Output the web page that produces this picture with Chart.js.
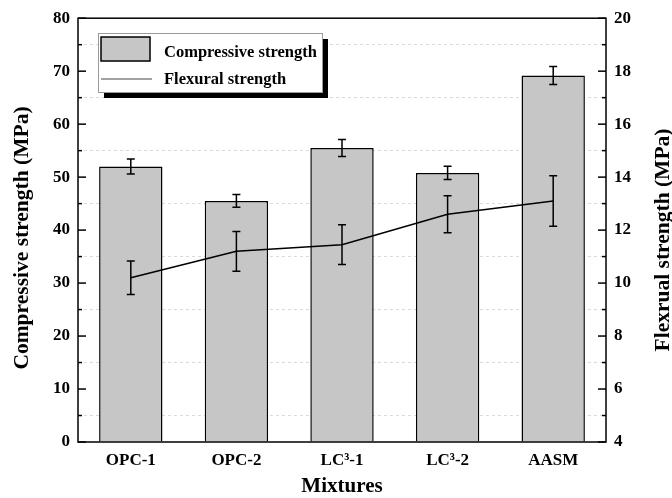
<!DOCTYPE html>
<html>
<head>
<meta charset="utf-8">
<script src="https://cdn.jsdelivr.net/npm/chart.js@4/dist/chart.umd.min.js"></script>
<style>
  html, body { margin: 0; padding: 0; background: #fff; }
  #wrap { width: 672px; height: 498px; }
</style>
</head>
<body>
<div id="wrap"><canvas id="strengthChart" width="672" height="498"></canvas></div>
<script>
// Mixtures and measured strengths
const mixtures = ['OPC-1', 'OPC-2', 'LC\u00B3-1', 'LC\u00B3-2', 'AASM'];
const compressive = [52.0, 45.5, 55.5, 50.8, 69.2];
const compressiveErr = [1.4, 1.2, 1.6, 1.25, 1.7];
const flexural = [10.2, 11.2, 11.45, 12.6, 13.1];
const flexuralErr = [0.63, 0.75, 0.75, 0.7, 0.95];

const leftTicks = [0, 10, 20, 30, 40, 50, 60, 70, 80];
const rightTicks = [4, 6, 8, 10, 12, 14, 16, 18, 20];
const leftTitle = 'Compressive strength (MPa)';
const rightTitle = 'Flexrual strength (MPa)';

const serif = "'Liberation Serif', 'Times New Roman', serif";
const barGray = '#c6c6c6';

// vertical axis title, reading bottom to top
function drawVTitle(ctx, text, cx, cy) {
    ctx.save();
    ctx.translate(cx, cy);
    ctx.rotate(-Math.PI / 2);
    ctx.fillStyle = '#000';
    ctx.font = 'bold 21.5px ' + serif;
    ctx.textAlign = 'center';
    ctx.textBaseline = 'middle';
    ctx.fillText(text, 0, 0);
    ctx.restore();
}

// Error bars, inward tick marks, frame, axis titles and the framed legend
const extrasPlugin = {
    id: 'extras',
    afterDatasetsDraw(chart) {
        const ctx = chart.ctx;
        const x = chart.scales.x;
        const yL = chart.scales.y;
        const yR = chart.scales.y1;
        ctx.save();
        ctx.strokeStyle = '#000';
        ctx.lineWidth = 1.5;
        const cap = 4;
        function errBar(xp, scale, v, e) {
            const top = scale.getPixelForValue(v + e);
            const bot = scale.getPixelForValue(v - e);
            ctx.beginPath();
            ctx.moveTo(xp, top); ctx.lineTo(xp, bot);
            ctx.moveTo(xp - cap, top); ctx.lineTo(xp + cap, top);
            ctx.moveTo(xp - cap, bot); ctx.lineTo(xp + cap, bot);
            ctx.stroke();
        }
        mixtures.forEach((m, i) => {
            const xp = x.getPixelForValue(i);
            errBar(xp, yL, compressive[i], compressiveErr[i]);
            errBar(xp, yR, flexural[i], flexuralErr[i]);
        });
        ctx.restore();
    },
    afterDraw(chart) {
        const ctx = chart.ctx;
        const area = chart.chartArea;
        ctx.save();
        ctx.strokeStyle = '#000';
        ctx.lineWidth = 1.5;
        // tick marks pointing into the plot
        chart.scales.y.ticks.forEach(t => {
            const yp = chart.scales.y.getPixelForValue(t.value);
            const len = leftTicks.includes(t.value) ? 8 : 4;
            ctx.beginPath();
            ctx.moveTo(area.left, yp); ctx.lineTo(area.left + len, yp);
            ctx.stroke();
        });
        chart.scales.y1.ticks.forEach(t => {
            const yp = chart.scales.y1.getPixelForValue(t.value);
            const len = rightTicks.includes(t.value) ? 8 : 4;
            ctx.beginPath();
            ctx.moveTo(area.right, yp); ctx.lineTo(area.right - len, yp);
            ctx.stroke();
        });
        ctx.strokeRect(area.left, area.top, area.right - area.left, area.bottom - area.top);

        drawVTitle(ctx, leftTitle, 22, 238);
        drawVTitle(ctx, rightTitle, 663, 240);

        // legend box with drop shadow
        const bx = 98, by = 33, bw = 224, bh = 59;
        ctx.fillStyle = '#000';
        ctx.fillRect(bx + 6, by + 6, bw, bh);
        ctx.fillStyle = '#fff';
        ctx.fillRect(bx, by, bw, bh);
        ctx.lineWidth = 1;
        ctx.strokeStyle = '#9a9a9a';
        ctx.strokeRect(bx + 0.5, by + 0.5, bw, bh);

        ctx.fillStyle = barGray;
        ctx.fillRect(101, 37, 49, 24);
        ctx.lineWidth = 1.5;
        ctx.strokeStyle = '#000';
        ctx.strokeRect(101, 37, 49, 24);

        ctx.lineWidth = 1.2;
        ctx.strokeStyle = '#444';
        ctx.beginPath();
        ctx.moveTo(101, 79); ctx.lineTo(152, 79);
        ctx.stroke();

        ctx.fillStyle = '#000';
        ctx.font = 'bold 16.5px ' + serif;
        ctx.textBaseline = 'alphabetic';
        ctx.textAlign = 'left';
        ctx.fillText('Compressive strength', 164, 56.5);
        ctx.fillText('Flexural strength', 164, 84);
        ctx.restore();
    }
};

const tickFont = { family: serif, size: 17, weight: 'bold' };
const titleFont = { family: serif, size: 21, weight: 'bold', lineHeight: 0.86 };

new Chart(document.getElementById('strengthChart'), {
    data: {
        labels: mixtures,
        datasets: [
            {
                type: 'bar',
                label: 'Compressive strength',
                data: compressive,
                yAxisID: 'y',
                backgroundColor: barGray,
                borderColor: '#000',
                borderWidth: 1.5,
                categoryPercentage: 1,
                barPercentage: 0.6,
                order: 2
            },
            {
                type: 'line',
                label: 'Flexural strength',
                data: flexural,
                yAxisID: 'y1',
                borderColor: '#000',
                borderWidth: 1.5,
                pointRadius: 0,
                tension: 0,
                fill: false,
                order: 1
            }
        ]
    },
    options: {
        responsive: false,
        animation: false,
        layout: { padding: { top: 16, left: 0, right: 0, bottom: 0 } },
        plugins: { legend: { display: false }, tooltip: { enabled: false } },
        scales: {
            x: {
                offset: true,
                grid: { display: false, drawTicks: false },
                border: { display: false },
                ticks: { color: '#000', font: tickFont, padding: 8, maxRotation: 0 },
                title: { display: true, text: 'Mixtures', color: '#000', font: titleFont, padding: { top: 0, bottom: 2 } },
                afterFit(s) { s.height = 56; }
            },
            y: {
                position: 'left',
                min: 0, max: 80,
                ticks: {
                    stepSize: 5,
                    color: '#000', font: tickFont, padding: 8,
                    callback: v => leftTicks.includes(v) ? String(v) : ''
                },
                grid: {
                    drawTicks: false,
                    lineWidth: 1,
                    color: c => (c.tick && c.tick.value % 10 === 5) ? '#dadada' : 'rgba(0,0,0,0)'
                },
                border: { display: false, dash: [3, 3] },
                title: { display: false },
                afterFit(s) { s.width = 78; }
            },
            y1: {
                position: 'right',
                min: 4, max: 20,
                ticks: {
                    stepSize: 1,
                    color: '#000', font: tickFont, padding: 8,
                    callback: v => rightTicks.includes(v) ? String(v) : ''
                },
                grid: { drawOnChartArea: false, drawTicks: false },
                border: { display: false },
                title: { display: false },
                afterFit(s) { s.width = 66; }
            }
        }
    },
    plugins: [extrasPlugin]
});
</script>
</body>
</html>
